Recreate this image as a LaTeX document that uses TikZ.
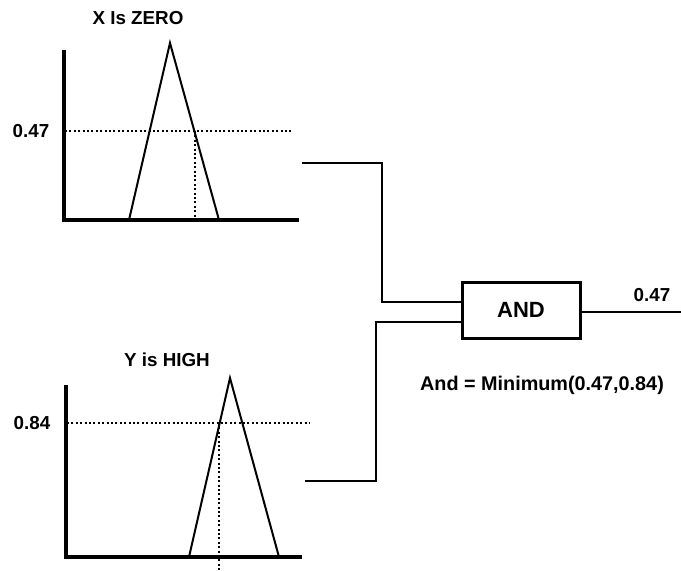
\documentclass[tikz,border=0pt]{standalone}
\usepackage{fontspec}
\setmainfont{Liberation Sans}
\begin{document}
\begin{tikzpicture}[x=1pt,y=-1pt,
  axis/.style={line width=3.2pt},
  tri/.style={line width=2pt, line join=miter},
  dotline/.style={line width=2.4pt, dash pattern=on 2pt off 2.4pt},
  wire/.style={line width=2pt},
  lbl/.style={font=\fontsize{18.8}{20}\selectfont\bfseries, inner sep=0pt},
  flbl/.style={font=\fontsize{19.8}{21}\selectfont\bfseries, inner sep=0pt},
  andbox/.style={draw, line width=3pt, minimum width=118pt, minimum height=56pt, inner sep=0pt, font=\fontsize{22}{24}\selectfont\bfseries}]
\useasboundingbox (0,0) rectangle (681,571);
% top chart
\node[lbl] (t1) at (138,18) {X Is ZERO};
\node[lbl] (v1) at (31,131) {0.47};
\draw[dotline] (65,131) -- (293,131);
\draw[dotline] (195,131) -- (195,220);
\draw[tri] (129,220) -- (170,43) -- (219,220);
\draw[axis] (64,50) -- (64,220) -- (299,220);
% bottom chart
\node[lbl] (t2) at (167,360) {Y is HIGH};
\node[lbl] (v2) at (32,423) {0.84};
\draw[dotline] (67,423) -- (310,423);
\draw[dotline] (219,423) -- (219,570);
\draw[tri] (189,557) -- (230,378) -- (279,557);
\draw[axis] (66,385) -- (66,557) -- (302,557);
% AND box
\node[andbox] (and) at (521,310) {AND};
\coordinate (s1) at (302,163);
\coordinate (s2) at (305,481);
\coordinate (out) at (681,312);
\draw[wire] (s1) -- (382,163) -- (382,302) -- (and.west |- 0,302);
\draw[wire] (s2) -- (376,481) -- (376,322) -- (and.west |- 0,322);
\draw[wire] (and.east |- out) -- (out);
\node[lbl] (o) at (652,295) {0.47};
\node[flbl] (f) at (542,385) {And = Minimum(0.47,0.84)};
\end{tikzpicture}
\end{document}
